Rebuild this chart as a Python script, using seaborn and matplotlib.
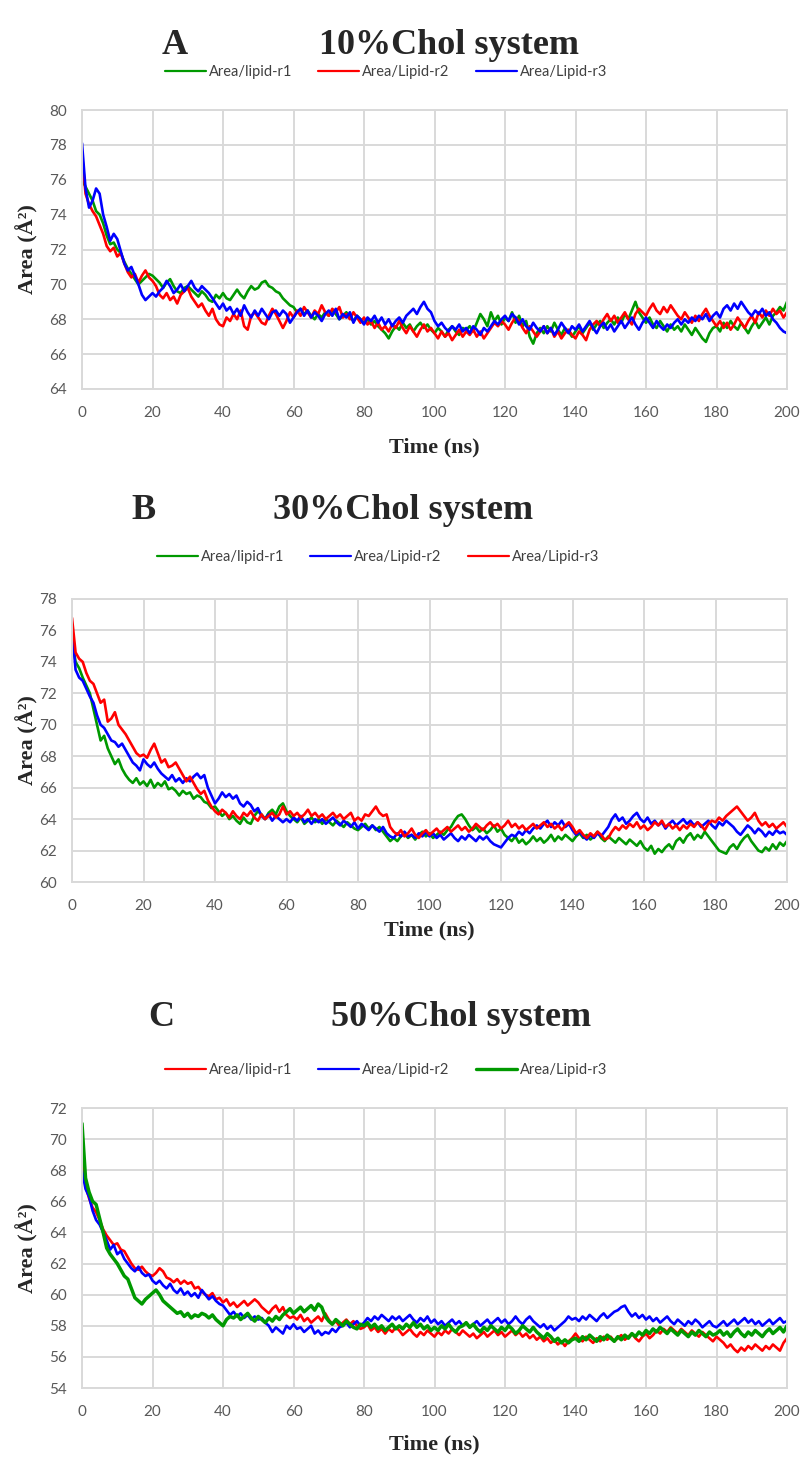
import pandas as pd
import matplotlib.pyplot as plt
import seaborn as sns

# time axis (ns), one frame per ns
time_ns = list(range(0, 201))

# ---------- Panel A: 10% Chol ----------
a_r1 = [76.0, 75.6, 75.2, 74.8, 74.2, 74.0, 73.5, 72.8, 72.3, 72.4,
        72.0, 71.8, 71.3, 70.9, 70.6, 70.3, 70.0, 70.2, 70.4, 70.6,
        70.5, 70.3, 70.1, 69.8, 70.1, 70.3, 69.9, 69.6, 69.5, 69.8,
        69.9, 69.7, 69.5, 69.3, 69.6, 69.4, 69.1, 69.0, 69.4, 69.2,
        69.5, 69.2, 69.1, 69.4, 69.7, 69.4, 69.2, 69.6, 69.9, 69.7,
        69.8, 70.1, 70.2, 69.9, 69.8, 69.6, 69.5, 69.2, 69.0, 68.8,
        68.7, 68.4, 68.6, 68.3, 68.5, 68.2, 68.0, 68.3, 68.1, 68.4,
        68.2, 68.5, 68.3, 68.0, 68.2, 68.4, 68.1, 67.9, 68.2, 68.0,
        67.8, 68.0, 67.7, 67.9, 67.6, 67.4, 67.2, 66.9, 67.3, 67.6,
        67.4, 67.8, 67.5, 67.7, 67.3, 67.6, 67.8, 67.5, 67.7, 67.4,
        67.2, 67.5, 67.3, 67.0, 67.4, 67.6, 67.3, 67.1, 67.5, 67.4,
        67.6, 67.3, 67.8, 68.3, 68.0, 67.6, 68.4, 67.9, 68.2, 67.7,
        68.1, 67.9, 68.4, 67.8, 68.2, 67.6, 67.9, 67.0, 66.6, 67.2,
        67.5, 67.2, 67.6, 67.3, 67.8, 67.4, 67.1, 67.5, 67.3, 67.0,
        67.3, 67.6, 67.2, 67.5, 67.8, 67.4, 67.7, 67.9, 67.5, 67.8,
        68.0, 67.7, 68.1, 67.8, 68.3, 68.0, 68.5, 69.0, 68.4, 68.1,
        67.8, 68.1, 67.7, 67.5, 67.9, 67.6, 67.3, 67.7, 67.4, 67.6,
        67.3, 67.7, 67.4, 67.1, 67.5, 67.2, 66.9, 66.7, 67.2, 67.5,
        67.6, 67.3, 67.8, 67.5, 67.9, 67.6, 67.4, 67.8, 67.5, 67.2,
        67.6, 67.9, 67.5, 67.8, 68.1, 67.7, 68.2, 68.4, 68.7, 68.5,
        69.0]
a_r2 = [77.5, 75.2, 74.6, 74.2, 73.9, 73.4, 72.9, 72.2, 71.9, 72.1,
        71.6, 71.8, 71.2, 70.7, 70.4, 70.6, 70.1, 70.5, 70.8, 70.4,
        70.2, 69.9, 69.4, 69.2, 69.5, 69.1, 69.3, 68.9, 69.4, 69.6,
        69.8, 69.3, 69.0, 68.7, 68.9, 68.5, 68.2, 68.6, 68.0, 67.7,
        67.6, 68.1, 67.9, 68.3, 68.0, 68.5, 67.6, 67.4, 68.2, 68.4,
        68.1, 67.8, 67.7, 68.2, 68.6, 68.3, 67.9, 67.5, 67.9, 68.4,
        68.1, 68.5, 68.2, 68.7, 68.4, 68.1, 68.5, 68.3, 68.8, 68.4,
        68.2, 68.6, 68.4, 68.7, 68.1, 68.3, 68.0, 68.4, 68.1, 67.8,
        68.1, 67.7, 67.9, 67.5, 67.8, 67.4, 67.6, 67.3, 67.7, 67.5,
        67.9, 67.5, 67.2, 67.6, 67.3, 67.0, 67.4, 67.7, 67.3, 67.5,
        67.2, 66.9, 67.3, 67.0, 67.2, 66.8, 67.1, 67.4, 67.0, 67.3,
        67.1, 67.4, 67.0, 67.3, 66.9, 67.2, 67.5, 67.8, 67.6, 67.9,
        67.7, 67.4, 67.8, 68.1, 67.9, 67.5, 67.2, 67.6, 67.3, 67.0,
        67.3, 67.6, 67.2, 67.5, 67.0, 67.3, 66.9, 67.2, 67.4, 67.1,
        66.9, 67.3, 67.1, 66.8, 67.4, 67.7, 67.9, 67.6, 68.0, 68.3,
        67.9, 68.2, 67.8, 68.1, 68.4, 68.0, 67.7, 68.3, 68.6, 68.4,
        68.2, 68.6, 68.9, 68.5, 68.3, 68.7, 68.4, 68.8, 68.5, 68.2,
        68.0, 68.4, 68.1, 67.8, 68.2, 67.9, 68.3, 68.6, 68.2, 67.9,
        67.6, 67.9, 67.5, 67.8, 67.4, 67.7, 68.1, 67.8, 67.5, 67.9,
        68.2, 67.8, 68.4, 68.1, 68.5, 68.2, 68.6, 68.3, 68.5, 68.1,
        68.4]
a_r3 = [78.1, 75.5, 74.4, 74.8, 75.5, 75.2, 74.0, 73.3, 72.5, 72.9,
        72.6, 71.9, 71.2, 70.8, 71.0, 70.5, 70.0, 69.4, 69.1, 69.3,
        69.5, 69.3, 69.6, 69.8, 70.2, 69.9, 69.5, 69.7, 70.0, 69.6,
        69.9, 70.2, 69.8, 69.6, 69.9, 69.7, 69.5, 69.2, 68.9, 68.6,
        68.9, 68.5, 68.7, 68.3, 68.6, 68.2, 68.8, 68.4, 68.1, 68.5,
        68.2, 68.6, 68.3, 68.0, 68.4, 68.5, 68.2, 68.5, 68.3, 67.8,
        68.1, 68.4, 68.6, 68.2, 68.5, 68.1, 68.4, 68.2, 67.9, 68.3,
        68.5, 68.2, 68.6, 68.0, 68.3, 68.1, 68.4, 67.8, 68.2, 68.0,
        67.7, 68.1, 67.9, 68.2, 67.8, 68.1, 67.7, 68.0, 67.6, 67.9,
        68.1, 67.8, 68.2, 68.4, 68.6, 68.3, 68.7, 69.0, 68.6, 68.4,
        67.9, 67.6, 67.8, 67.5, 67.3, 67.6, 67.4, 67.7, 67.3, 67.5,
        67.2, 67.6, 67.4, 67.1, 67.5, 67.3, 67.6, 67.9, 67.7, 68.0,
        68.2, 67.9, 68.3, 68.1, 67.7, 68.0, 67.6, 67.4, 67.8, 67.5,
        67.3, 67.6, 67.2, 67.5, 67.1, 67.4, 67.8, 67.5, 67.2, 67.6,
        67.4, 67.7, 67.3, 67.6, 67.9, 67.5, 67.2, 67.6, 67.8, 67.4,
        67.7, 67.3, 67.6, 67.9, 67.5, 67.8, 68.1, 67.7, 67.4, 67.8,
        68.1, 67.8, 67.5, 67.9, 67.6, 67.4, 67.7, 67.5, 67.8, 68.0,
        67.7, 68.0, 67.8, 68.1, 67.9, 68.2, 68.0, 68.3, 67.9, 68.2,
        68.4, 68.1, 68.6, 68.8, 68.5, 68.9, 68.6, 69.0, 68.7, 68.4,
        68.2, 68.5, 68.3, 68.6, 68.2, 68.4, 68.0, 67.8, 67.5, 67.3,
        67.2]

# ---------- Panel B: 30% Chol ----------
b_r1 = [75.5, 74.0, 73.6, 73.0, 72.5, 72.0, 71.0, 70.0, 69.0, 69.3,
        68.5, 68.0, 67.5, 67.8, 67.2, 66.8, 66.5, 66.3, 66.6, 66.2,
        66.4, 66.1, 66.5, 66.0, 66.3, 66.1, 66.4, 65.9, 66.0, 65.8,
        65.5, 65.8, 65.6, 65.7, 65.3, 65.5, 65.4, 65.1, 65.0, 64.7,
        64.8, 64.5, 64.2, 64.4, 64.0, 64.2, 63.9, 63.7, 64.1, 63.8,
        63.7, 64.2, 64.5, 64.3, 64.0, 64.4, 64.6, 64.3, 64.8, 65.0,
        64.5, 64.2, 64.0, 63.8, 64.1, 63.7, 63.9, 64.1, 63.8, 64.0,
        63.7, 64.0, 63.8, 63.6, 63.9, 63.7, 63.5, 63.8, 63.6, 63.4,
        63.3, 63.5, 63.7, 63.4, 63.6, 63.3, 63.5, 63.2, 62.9, 62.6,
        62.8, 62.6, 62.9, 63.1, 62.8, 63.0, 62.7, 63.0, 63.2, 62.9,
        63.1, 62.8, 63.0, 63.2, 63.0, 63.3, 63.5, 63.9, 64.2, 64.3,
        64.0, 63.6, 63.3, 63.5, 63.2, 63.4, 63.1, 63.3, 63.6, 63.2,
        63.4, 63.0, 62.8, 62.6, 62.9, 62.5, 62.7, 62.4, 62.6, 62.9,
        62.6, 62.8, 62.5, 62.7, 63.0, 62.6, 62.9, 62.7, 63.0, 62.8,
        62.6, 62.9, 63.1, 62.8, 63.0, 62.7, 62.9, 63.2, 62.8, 62.6,
        62.9, 62.7, 62.5, 62.8, 62.6, 62.4, 62.7, 62.5, 62.3, 62.6,
        62.2, 62.0, 62.3, 61.8, 62.1, 61.9, 62.2, 62.4, 62.1, 62.6,
        62.8, 62.5, 62.9, 63.1, 62.7, 63.0, 62.8, 63.2, 62.9, 62.6,
        62.3, 62.0, 61.9, 61.8, 62.2, 62.4, 62.1, 62.5, 62.8, 63.0,
        62.6, 62.3, 62.0, 61.9, 62.2, 62.0, 62.4, 62.1, 62.5, 62.3,
        62.6]
b_r2 = [76.2, 73.5, 73.0, 72.8, 72.3, 71.8, 71.4, 70.6, 70.0, 69.8,
        69.4, 69.0, 68.9, 68.6, 68.8, 68.4, 68.0, 67.6, 67.4, 67.1,
        67.8, 67.5, 67.3, 67.6, 67.2, 66.9, 66.7, 66.5, 66.8, 66.4,
        66.6, 66.3, 66.6, 66.4, 66.7, 66.9, 66.6, 66.8, 66.0, 65.5,
        65.0, 65.3, 65.7, 65.4, 65.6, 65.3, 65.5, 65.0, 64.8, 65.1,
        64.9, 64.5, 64.7, 64.2, 64.0, 64.3, 63.9, 64.2, 64.0, 63.8,
        64.0, 63.8, 64.1, 63.9, 64.2, 63.8, 64.0, 63.7, 64.0, 63.8,
        64.0, 63.7, 63.9, 64.1, 63.8, 63.6, 63.9, 63.7, 63.5, 63.8,
        63.4, 63.7, 63.5, 63.3, 63.6, 63.4, 63.2, 63.5, 63.1, 62.9,
        62.8, 63.1, 62.9, 63.2, 62.9, 63.0, 62.8, 63.1, 62.9, 63.2,
        62.9, 63.1, 62.8, 63.0, 62.7, 62.9, 63.1, 62.8, 62.6, 62.9,
        62.7, 63.0, 62.8, 62.6, 62.9, 62.7, 62.9, 62.6, 62.4, 62.3,
        62.2, 62.5, 62.8, 63.0, 62.9, 63.2, 63.0, 63.3, 63.1, 63.4,
        63.6, 63.4, 63.7, 63.9, 63.5, 63.8, 63.6, 63.9, 63.5, 63.7,
        63.3, 63.0, 63.2, 62.9, 62.7, 63.0, 62.8, 63.1, 62.9, 63.2,
        63.5, 64.0, 64.3, 63.9, 64.1, 63.7, 63.9, 64.2, 64.4, 64.0,
        63.8, 64.1, 63.7, 63.9, 63.6, 63.8, 63.4, 63.7, 63.9, 63.6,
        63.8, 64.0, 63.7, 63.9, 63.6, 63.8, 63.5, 63.7, 63.9, 63.6,
        63.4, 63.8, 63.6, 63.9, 63.7, 63.5, 63.2, 63.0, 63.3, 63.6,
        63.4, 63.1, 63.4, 63.2, 62.9, 63.2, 63.0, 63.3, 63.1, 63.2,
        63.0]
b_r3 = [76.8, 74.6, 74.2, 74.0, 73.3, 72.8, 72.6, 72.0, 71.4, 71.6,
        70.2, 70.4, 70.8, 70.0, 69.7, 69.4, 69.0, 68.6, 68.2, 68.0,
        68.1, 67.9, 68.4, 68.8, 68.2, 67.6, 67.8, 67.3, 67.4, 67.6,
        67.2, 66.8, 66.4, 66.7, 66.3, 65.9, 65.6, 65.8, 65.2, 64.8,
        64.5, 64.3, 64.6, 64.4, 64.1, 64.5, 64.2, 64.0, 64.4, 64.2,
        64.5, 64.1, 63.9, 64.3, 64.0, 64.2, 64.4, 64.1, 64.3, 64.8,
        64.3, 64.5, 64.2, 64.4, 64.1, 64.3, 64.6, 64.2, 64.4, 64.1,
        64.3, 64.0, 64.2, 64.4, 64.1, 64.3, 64.0, 64.2, 64.4, 63.9,
        64.1, 63.9, 64.3, 64.2, 64.5, 64.8, 64.4, 64.2, 64.3, 63.5,
        63.2, 63.0, 63.3, 62.9, 63.1, 63.4, 63.0, 62.8, 63.1, 63.3,
        63.0, 63.2, 63.4, 63.1, 63.3, 63.5, 63.2, 63.4, 63.6, 63.3,
        63.5, 63.2, 63.4, 63.7, 63.5, 63.3, 63.6, 63.8, 63.5, 63.7,
        63.4, 63.6, 63.9, 63.5, 63.7, 63.4, 63.6, 63.3, 63.5, 63.7,
        63.4, 63.6, 63.8, 63.5, 63.7, 63.4, 63.6, 63.3, 63.6, 63.8,
        63.5, 63.1, 63.3, 63.0, 62.8, 63.1, 62.9, 63.2, 63.0, 62.7,
        62.8, 63.2, 63.5, 63.3, 63.6, 63.4, 63.7, 63.5, 63.8, 63.4,
        63.6, 63.3, 63.5, 63.8, 63.6, 63.9, 63.5, 63.7, 63.4, 63.6,
        63.3, 63.6, 63.4, 63.7, 63.5, 63.8, 63.6, 63.3, 63.7, 63.9,
        63.8, 64.1, 63.9, 64.2, 64.4, 64.6, 64.8, 64.5, 64.2, 63.9,
        64.1, 64.4, 63.9, 63.6, 63.8, 63.5, 63.7, 63.4, 63.6, 63.8,
        63.5]

# ---------- Panel C: 50% Chol ----------
c_r1 = [68.5, 67.0, 66.2, 65.6, 65.3, 64.8, 64.2, 63.8, 63.5, 63.2,
        63.3, 62.9, 62.8, 62.4, 62.0, 61.7, 61.6, 61.8, 61.5, 61.3,
        61.2, 61.4, 61.7, 61.5, 61.1, 61.0, 60.8, 61.0, 60.7, 60.9,
        60.7, 60.8, 60.4, 60.5, 60.2, 60.0, 59.9, 60.1, 59.7, 59.8,
        59.5, 59.7, 59.3, 59.5, 59.2, 59.4, 59.6, 59.3, 59.5, 59.7,
        59.5, 59.2, 59.0, 58.8, 59.1, 59.3, 58.9, 59.2, 58.7, 58.5,
        58.6, 58.4, 58.7, 58.3, 58.5, 58.2, 58.4, 58.6, 58.3, 58.8,
        58.4, 58.1, 58.3, 58.0, 58.2, 58.4, 58.1, 58.3, 58.0, 57.8,
        57.9, 58.1, 57.7, 57.9, 57.6, 57.8, 57.5, 57.8, 57.6, 57.9,
        57.7, 57.4, 57.6, 57.8, 57.5, 57.3, 57.6, 57.4, 57.7, 57.5,
        57.3, 57.6, 57.4, 57.7, 57.5, 57.8, 57.6, 57.4, 57.7, 57.5,
        57.3, 57.5, 57.2, 57.4, 57.6, 57.3, 57.5, 57.7, 57.4, 57.6,
        57.3, 57.5, 57.7, 57.4, 57.6, 57.3, 57.5, 57.2, 57.4, 57.1,
        57.3, 57.0, 57.2, 56.9, 57.1, 56.8, 57.0, 56.7, 57.0, 57.2,
        57.5, 57.2, 57.0, 57.3, 57.1, 56.9, 57.2, 57.0, 57.3, 57.1,
        57.3, 57.0, 57.2, 57.4, 57.1, 57.3, 57.5, 57.2, 57.0, 57.3,
        57.5, 57.2, 57.4, 57.7, 57.5, 57.8, 57.6, 57.9, 57.7, 57.5,
        57.8, 57.6, 57.4, 57.7, 57.5, 57.3, 57.6, 57.4, 57.2, 57.0,
        57.3, 57.1, 56.9, 56.6, 56.8, 56.5, 56.3, 56.6, 56.4, 56.7,
        56.5, 56.8, 56.6, 56.4, 56.7, 56.5, 56.8, 56.6, 56.4, 56.9,
        57.2]
c_r2 = [68.0, 66.8, 66.3, 65.4, 64.8, 64.5, 64.0, 63.5, 62.9, 63.2,
        62.6, 62.8, 62.3, 62.0, 61.7, 61.5, 61.8, 61.4, 61.2, 61.3,
        60.9, 60.7, 60.9, 60.6, 60.4, 60.7, 60.3, 60.1, 60.4, 60.0,
        60.2, 59.9, 60.1, 59.8, 60.3, 60.0, 59.7, 59.9, 59.6, 59.4,
        59.3, 59.0, 58.7, 58.9, 58.6, 58.8, 58.5, 58.7, 58.4, 58.6,
        58.4, 58.5, 58.2, 58.0, 57.6, 57.9, 57.7, 57.5, 58.0, 57.8,
        58.1, 57.8, 57.9, 57.6, 57.8, 58.0, 57.5, 57.7, 57.4, 57.6,
        57.5, 57.8, 57.6, 57.9, 58.0, 58.2, 57.9, 58.1, 58.3, 58.0,
        58.2, 58.5, 58.3, 58.6, 58.4, 58.7, 58.5, 58.3, 58.6, 58.4,
        58.6, 58.3, 58.5, 58.7, 58.4, 58.2, 58.5, 58.3, 58.6, 58.2,
        58.4, 58.1, 58.3, 58.0, 58.2, 58.4, 58.1, 58.3, 58.0, 58.2,
        57.9, 58.1, 58.3, 58.0, 58.2, 58.4, 58.1, 58.3, 58.5, 58.2,
        58.4, 58.1, 58.3, 58.6, 58.3, 58.1, 58.4, 58.6, 58.3, 58.1,
        57.9, 58.1, 57.8, 58.0, 57.7, 57.9, 58.1, 58.3, 58.6, 58.4,
        58.5, 58.3, 58.6, 58.4, 58.7, 58.5, 58.3, 58.6, 58.8, 58.5,
        58.7, 58.9, 59.0, 59.2, 59.3, 58.9, 58.6, 58.8, 58.5, 58.7,
        58.4, 58.6, 58.3, 58.5, 58.2, 58.4, 58.6, 58.3, 58.1, 58.4,
        58.2, 58.0, 58.3, 58.1, 58.4, 58.2, 57.9, 58.1, 58.3, 58.0,
        57.9, 58.1, 58.3, 58.0, 58.2, 58.4, 58.1, 58.3, 58.5, 58.2,
        58.4, 58.1, 58.3, 58.0, 58.2, 58.4, 58.1, 58.3, 58.5, 58.2,
        58.3]
c_r3 = [71.0, 67.5, 66.6, 66.0, 65.8, 64.9, 64.0, 63.0, 62.6, 62.3,
        62.0, 61.6, 61.2, 61.0, 60.4, 59.8, 59.6, 59.4, 59.7, 59.9,
        60.1, 60.3, 60.0, 59.6, 59.4, 59.2, 59.0, 58.8, 58.9, 58.6,
        58.8, 58.5, 58.7, 58.6, 58.8, 58.7, 58.5, 58.7, 58.4, 58.2,
        58.0, 58.4, 58.6, 58.5, 58.7, 58.4, 58.6, 58.8, 58.5, 58.3,
        58.6, 58.4, 58.2, 58.5, 58.3, 58.6, 58.4, 58.7, 58.9, 59.1,
        58.8, 59.0, 59.2, 58.9, 59.1, 59.3, 59.0, 59.4, 59.2, 58.6,
        58.3, 58.1, 58.4, 58.2, 58.0, 58.3, 58.1, 57.9, 57.8, 58.1,
        58.0, 58.2, 57.9, 58.1, 57.8, 58.0, 57.7, 57.9, 58.1, 57.8,
        58.0, 57.8, 58.1, 57.9, 58.2, 57.9, 58.1, 57.8, 58.0, 57.7,
        57.9, 57.7, 58.0, 57.8, 58.1, 57.8, 57.6, 57.9, 58.0, 58.2,
        57.9, 58.1, 57.8, 57.6, 57.9, 57.7, 58.0, 57.8, 57.6, 57.9,
        57.7, 58.0, 57.8, 57.5, 57.7, 58.0, 57.8, 57.6, 57.9, 57.6,
        57.4, 57.2, 57.5, 57.3, 57.0, 57.2, 56.9, 57.1, 56.9, 57.1,
        57.2, 57.0, 57.3, 57.1, 57.4, 57.2, 57.0, 57.3, 57.1, 57.4,
        57.2, 57.0, 57.3, 57.1, 57.4, 57.2, 57.5, 57.3, 57.6, 57.4,
        57.7, 57.5, 57.8, 57.6, 57.9, 57.7, 57.5, 57.8, 57.6, 57.4,
        57.7, 57.5, 57.3, 57.6, 57.4, 57.7, 57.5, 57.3, 57.6, 57.4,
        57.5, 57.7, 57.4, 57.6, 57.3, 57.6, 57.8, 57.5, 57.3, 57.6,
        57.4, 57.7, 57.5, 57.3, 57.6, 57.8, 57.5, 57.7, 57.9, 57.6,
        58.0]

labels = ["Area/lipid-r1", "Area/Lipid-r2", "Area/Lipid-r3"]
GREEN, RED, BLUE = "#009900", "#ff0000", "#0000ff"

W, H = 804, 1458  # figure size in pixels


def fig_rect(left, top, right, bottom):
    return [left / W, 1 - bottom / H, (right - left) / W, (bottom - top) / H]


sns.set_theme(style="whitegrid")
plt.rcParams['font.family'] = ['Lato', 'DejaVu Sans']

fig = plt.figure(figsize=(W / 100, H / 100), dpi=100)

panels = [
    dict(letter="A", title="10%Chol system", data=[a_r1, a_r2, a_r3],
         colors=[GREEN, RED, BLUE], rect=(82, 110, 787, 389), ylim=(64, 80),
         letter_x=175, title_x=449, title_y=45, leg_x=165, leg_y=72,
         xlab_top=437),
    dict(letter="B", title="30%Chol system", data=[b_r1, b_r2, b_r3],
         colors=[GREEN, BLUE, RED], rect=(72, 599, 787, 882), ylim=(60, 78),
         letter_x=144, title_x=403, title_y=510, leg_x=157, leg_y=557,
         xlab_top=920),
    dict(letter="C", title="50%Chol system", data=[c_r1, c_r2, c_r3],
         colors=[RED, BLUE, GREEN], rect=(82, 1108, 787, 1388), ylim=(54, 72),
         letter_x=161, title_x=461, title_y=1018, leg_x=165, leg_y=1070,
         xlab_top=1434),
]

serif_bold = dict(family='Liberation Serif', weight='bold')
grid_col = '#d9d9d9'
tick_col = '#595959'

for p in panels:
    left, top, right, bottom = p['rect']
    ax = fig.add_axes(fig_rect(left, top, right, bottom))

    df = pd.concat([
        pd.DataFrame({'time': time_ns, 'area': vals, 'series': lab})
        for lab, vals in zip(labels, p['data'])
    ])
    sns.lineplot(data=df, x='time', y='area', hue='series', hue_order=labels,
                 palette=dict(zip(labels, p['colors'])), linewidth=1.9,
                 estimator=None, legend=False, ax=ax)

    # the green r3 trace in panel C is drawn a little heavier
    for line, col in zip(ax.lines, p['colors']):
        if p['letter'] == "C" and col == GREEN:
            line.set_linewidth(2.5)

    ax.set_xlim(0, 200)
    ax.set_ylim(*p['ylim'])
    ax.set_xticks(range(0, 201, 20))
    ax.set_yticks(range(p['ylim'][0], p['ylim'][1] + 1, 2))
    ax.grid(True, color=grid_col, linewidth=1.4)
    for s in ax.spines.values():
        s.set_visible(True)
        s.set_color(grid_col)
        s.set_linewidth(1.4)
    ax.tick_params(axis='both', length=0, labelsize=11, labelcolor=tick_col)
    ax.tick_params(axis='y', pad=11)
    ax.tick_params(axis='x', pad=12)

    ax.set_xlabel("Time (ns)", fontsize=16, **serif_bold)
    ax.set_ylabel("Area (Å²)", fontsize=16, **serif_bold)
    ax.xaxis.set_label_coords(0.5, (bottom - p['xlab_top']) / (bottom - top))
    ax.yaxis.set_label_coords((38 - left) / (right - left), 0.5)

    ax.legend(handles=ax.lines[:3], labels=labels, loc='center left',
              bbox_to_anchor=((p['leg_x'] - left) / (right - left),
                              (bottom - p['leg_y']) / (bottom - top)),
              ncol=3, frameon=False, fontsize=10.5, handlelength=2.8,
              handletextpad=0.2, columnspacing=1.8, borderpad=0,
              borderaxespad=0, labelcolor='#404040')
    for h in ax.get_legend().get_lines():
        h.set_linewidth(1.6 if h.get_color() != GREEN or p['letter'] != "C" else 2.4)

    fig.text(p['letter_x'] / W, 1 - p['title_y'] / H, p['letter'],
             ha='center', va='center', fontsize=26, **serif_bold)
    fig.text(p['title_x'] / W, 1 - p['title_y'] / H, p['title'],
             ha='center', va='center', fontsize=26, **serif_bold)

fig.savefig('out.png', dpi=100, facecolor='white')
